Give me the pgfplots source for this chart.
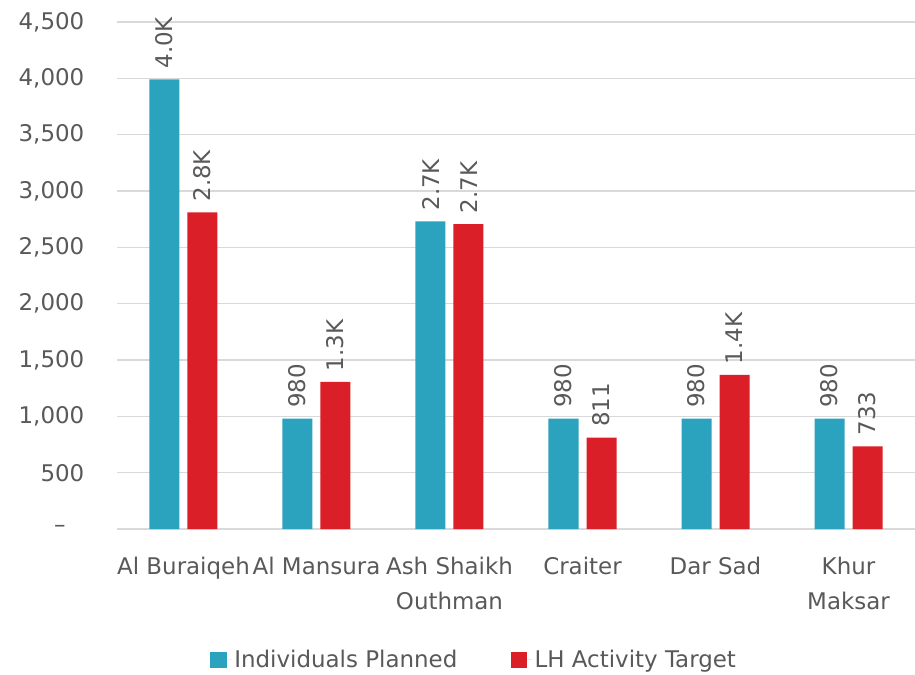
\documentclass[border=0pt]{standalone}
\usepackage{pgfplots}
\pgfplotsset{compat=1.18}
\usepackage{fontspec}
\setmainfont{DejaVu Sans}
\definecolor{tealc}{HTML}{2BA3BE}
\definecolor{redc}{HTML}{DA1F28}
\definecolor{txt}{HTML}{595959}
\definecolor{gridc}{HTML}{D9D9D9}
\newcommand\lf{\fontsize{17.2}{26}\selectfont}
\pgfplotstableread{
x y lab
0 3990 4.0K
1 980 980
2 2730 2.7K
3 980 980
4 980 980
5 980 980
}\planned
\pgfplotstableread{
x y lab
0 2810 2.8K
1 1305 1.3K
2 2707 2.7K
3 811 811
4 1367 1.4K
5 733 733
}\target
\begin{document}
\begin{tikzpicture}[x=1pt,y=1pt]
\begin{axis}[
  at={(0,0)}, anchor=south west,
  width=598.5pt, height=380.25pt, scale only axis,
  xmin=-0.5, xmax=5.5, ymin=0, ymax=4500,
  ytick={0,500,...,4500},
  yticklabels={{–\kern14pt},500,{1,000},{1,500},{2,000},{2,500},{3,000},{3,500},{4,000},{4,500}},
  xtick={0,...,5},
  xticklabels={Al Buraiqeh, Al Mansura, Ash Shaikh\\Outhman, Craiter, Dar Sad, Khur\\Maksar},
  axis line style={draw=none},
  tick style={draw=none},
  ymajorgrids, grid style={gridc, line width=1pt},
  yticklabel style={font=\lf, text=txt, anchor=east, xshift=-21pt},
  xticklabel style={font=\lf, text=txt, align=center, anchor=north, inner sep=0pt, yshift=-16.5pt},
  ybar, bar width=22.5pt,
  nodes near coords, point meta=explicit symbolic,
  every node near coord/.append style={rotate=90, anchor=west, text=txt, font=\lf, inner xsep=8pt},
  legend style={at={(0.448,-0.258)}, anchor=center, legend columns=2, draw=none,
     font=\lf, text=txt,
     /tikz/every even column/.append style={column sep=38pt}},
  legend image code/.code={\fill[#1] (0pt,-6.2pt) rectangle (12.4pt,6.2pt); \path (12.4pt,0pt) -- (16pt,0pt);},
]
\addplot[fill=tealc, draw=none, bar shift=-14.25pt] table[x=x,y=y,meta=lab] {\planned};
\addplot[fill=redc, draw=none, bar shift=14.25pt] table[x=x,y=y,meta=lab] {\target};
\legend{Individuals Planned, LH Activity Target}
\end{axis}
\pgfresetboundingbox
\path[use as bounding box] (-87.75,-109.5) rectangle (598.5,396.75);
\end{tikzpicture}
\end{document}
